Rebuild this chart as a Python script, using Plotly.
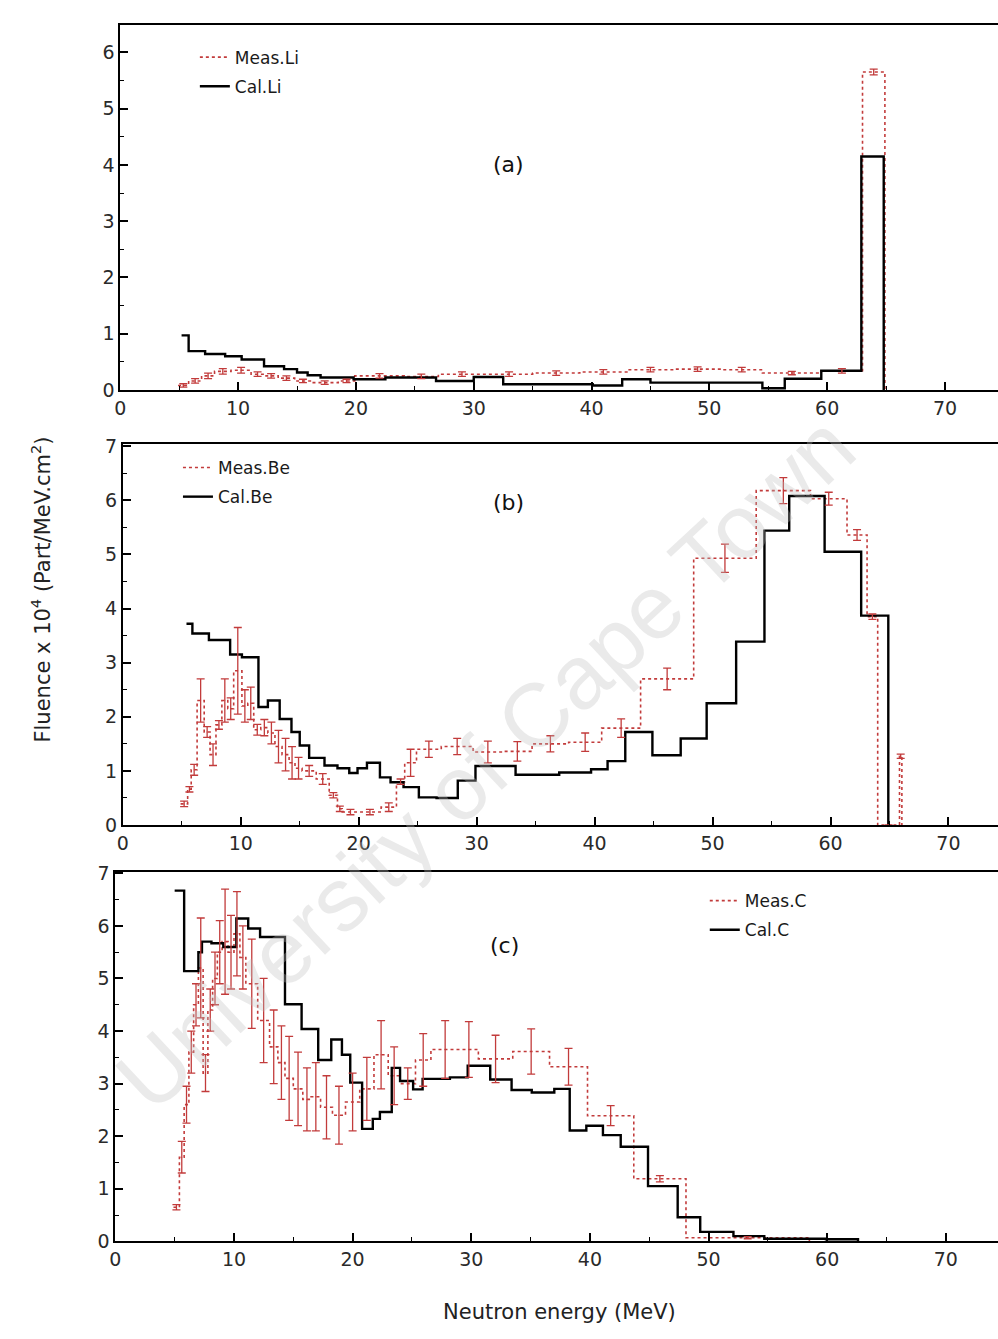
import plotly.graph_objects as go

W, H = 998, 1339

# ---------------- data ----------------
# Panel (a) Li
li_meas_edges = [4.9, 5.8, 6.9, 8.0, 9.4, 11.1, 12.2, 13.4, 14.8, 16.2, 18.5, 19.9, 24.1, 27.0,
                 31.0, 35.0, 39.0, 43.0, 47.0, 51.0, 54.5, 59.5, 63.0, 64.9]
li_meas_vals = [0.08, 0.16, 0.25, 0.33, 0.35, 0.28, 0.25, 0.21, 0.16, 0.13, 0.16, 0.25, 0.24,
                0.28, 0.28, 0.30, 0.32, 0.36, 0.37, 0.36, 0.30, 0.34, 5.65]
li_meas_err = [0.03, 0.04, 0.05, 0.05, 0.05, 0.04, 0.04, 0.04, 0.03, 0.03, 0.03, 0.04, 0.04,
               0.04, 0.04, 0.04, 0.04, 0.04, 0.04, 0.04, 0.03, 0.04, 0.05]
li_cal_edges = [5.2, 5.8, 7.2, 8.9, 10.3, 12.2, 13.9, 15.0, 15.9, 17.0, 19.8, 22.5, 26.8, 30.0,
                32.5, 35.2, 40.1, 42.6, 45.0, 54.5, 56.4, 59.5, 62.9, 64.8]
li_cal_vals = [0.97, 0.69, 0.64, 0.60, 0.54, 0.42, 0.37, 0.31, 0.26, 0.22, 0.19, 0.22, 0.16,
               0.23, 0.10, 0.10, 0.08, 0.19, 0.13, 0.03, 0.20, 0.34, 4.15]

# Panel (b) Be
be_meas_edges = [4.9, 5.5, 5.8, 6.3, 6.9, 7.4, 7.9, 8.4, 8.9, 9.4, 10.1, 10.6, 11.1, 11.7, 12.3,
                 12.9, 13.5, 14.1, 14.6, 15.2, 16.4, 17.5, 18.2, 18.6, 20.0, 21.9, 23.2, 23.9,
                 24.9, 27.0, 29.7, 32.2, 34.7, 37.8, 40.6, 43.9, 48.4, 53.7, 58.3, 61.4, 63.1,
                 64.0, 65.85, 66.05]
be_meas_vals = [0.39, 0.66, 1.02, 2.30, 1.72, 1.30, 1.85, 2.30, 2.15, 2.85, 2.20, 2.25, 1.76,
                1.80, 1.70, 1.45, 1.30, 1.15, 1.05, 1.00, 0.85, 0.55, 0.30, 0.24, 0.24, 0.33,
                0.80, 1.15, 1.40, 1.45, 1.35, 1.36, 1.50, 1.53, 1.79, 2.70, 4.93, 6.18, 6.03,
                5.36, 3.85, 0.0, 1.27]
be_meas_err = [0.05, 0.05, 0.10, 0.40, 0.10, 0.20, 0.08, 0.40, 0.20, 0.80, 0.30, 0.30, 0.10,
               0.15, 0.20, 0.30, 0.30, 0.30, 0.20, 0.10, 0.10, 0.05, 0.05, 0.05, 0.05, 0.08,
               0.05, 0.25, 0.15, 0.15, 0.20, 0.18, 0.15, 0.17, 0.17, 0.20, 0.26, 0.24, 0.12,
               0.10, 0.05, 0.0, 0.04]
be_cal_edges = [5.4, 5.9, 7.3, 9.1, 10.1, 11.5, 12.3, 13.3, 14.3, 15.0, 15.8, 17.1, 18.2, 19.2,
                19.9, 20.7, 21.8, 22.7, 23.8, 25.1, 26.6, 28.4, 29.9, 33.3, 37.0, 39.7, 41.1,
                42.6, 44.9, 47.3, 49.5, 52.0, 54.4, 56.5, 59.5, 62.6, 64.9]
be_cal_vals = [3.72, 3.54, 3.42, 3.15, 3.10, 2.18, 2.30, 1.96, 1.72, 1.47, 1.24, 1.10, 1.05,
               0.96, 1.05, 1.15, 0.88, 0.79, 0.70, 0.51, 0.50, 0.82, 1.09, 0.93, 0.97, 1.03,
               1.18, 1.72, 1.29, 1.60, 2.25, 3.39, 5.44, 6.08, 5.05, 3.87]

# Panel (c) C
c_meas_edges = [4.9, 5.4, 5.8, 6.2, 6.6, 7.0, 7.4, 7.8, 8.2, 8.6, 9.0, 9.5, 10.0, 10.5, 11.0,
                12.0, 13.0, 13.7, 14.3, 15.0, 15.8, 16.5, 17.3, 18.3, 19.4, 20.6, 21.8, 23.0,
                24.0, 25.3, 26.6, 29.0, 30.6, 33.5, 36.6, 39.8, 43.7, 48.1, 58.5]
c_meas_vals = [0.65, 1.6, 2.6, 3.6, 4.5, 5.2, 3.2, 4.4, 5.0, 5.5, 5.7, 5.5, 5.85, 5.4, 4.9,
               4.2, 3.7, 3.4, 3.1, 2.9, 2.7, 2.75, 2.55, 2.4, 2.65, 2.9, 3.55, 3.15, 3.0, 3.45,
               3.65, 3.65, 3.47, 3.61, 3.32, 2.39, 1.19, 0.07]
c_meas_err = [0.05, 0.3, 0.35, 0.4, 0.4, 0.95, 0.35, 0.4, 0.5, 0.6, 1.0, 0.7, 0.8, 0.6, 0.85,
              0.8, 0.7, 0.7, 0.8, 0.7, 0.6, 0.65, 0.6, 0.55, 0.55, 0.6, 0.65, 0.55, 0.3, 0.5,
              0.55, 0.53, 0.45, 0.43, 0.35, 0.19, 0.06, 0.02]
c_cal_edges = [5.0, 5.8, 7.0, 7.3, 8.1, 9.1, 10.2, 11.2, 12.2, 14.3, 15.7, 17.1, 18.2, 19.1,
               19.8, 20.8, 21.7, 22.3, 23.3, 24.0, 25.1, 25.9, 28.2, 29.7, 31.6, 33.4, 35.1,
               37.0, 38.3, 39.7, 41.1, 42.6, 44.9, 47.4, 49.3, 52.1, 54.7, 59.9, 62.6]
c_cal_vals = [6.67, 5.14, 5.5, 5.7, 5.67, 5.6, 6.14, 5.95, 5.79, 4.51, 4.04, 3.45, 3.84, 3.55,
              3.02, 2.14, 2.33, 2.46, 3.3, 3.05, 2.89, 3.09, 3.12, 3.34, 3.08, 2.88, 2.83, 2.9,
              2.11, 2.2, 2.02, 1.8, 1.05, 0.46, 0.18, 0.1, 0.05, 0.04]

panel_labels = ["(a)", "(b)", "(c)"]
meas_names = ["Meas.Li", "Meas.Be", "Meas.C"]
cal_names = ["Cal.Li", "Cal.Be", "Cal.C"]

RED = "#c23b3b"
FONT = "DejaVu Sans, Liberation Sans, sans-serif"
WM_FONT = "Liberation Sans, Arial, sans-serif"


def step_xy(edges, vals):
    xs = list(edges) + [edges[-1]]
    ys = list(vals) + [vals[-1], 0.0]
    return xs, ys


def centers(edges):
    return [(edges[i] + edges[i + 1]) / 2 for i in range(len(edges) - 1)]


fig = go.Figure()

panels = [
    (li_meas_edges, li_meas_vals, li_meas_err, li_cal_edges, li_cal_vals, "", "legend"),
    (be_meas_edges, be_meas_vals, be_meas_err, be_cal_edges, be_cal_vals, "2", "legend2"),
    (c_meas_edges, c_meas_vals, c_meas_err, c_cal_edges, c_cal_vals, "3", "legend3"),
]

for k, (me, mv, merr, ce, cv, sfx, lg) in enumerate(panels):
    xa, ya = "x" + sfx, "y" + sfx
    mx, my = step_xy(me, mv)
    fig.add_trace(go.Scatter(x=mx, y=my, mode="lines", line=dict(shape="hv", color=RED, width=1.6, dash="dot"),
                             name=meas_names[k], legend=lg, legendgroup="m%d" % k, xaxis=xa, yaxis=ya))
    cx, cy = step_xy(ce, cv)
    fig.add_trace(go.Scatter(x=cx, y=cy, mode="lines", line=dict(shape="hv", color="black", width=2.4),
                             name=cal_names[k], legend=lg, legendgroup="c%d" % k, xaxis=xa, yaxis=ya))
    fig.add_trace(go.Scatter(x=centers(me), y=mv, mode="markers", marker=dict(size=1, color=RED),
                             error_y=dict(type="data", array=merr, visible=True, color=RED, thickness=1.3, width=4),
                             showlegend=False, xaxis=xa, yaxis=ya, hoverinfo="skip"))

# ---------------- layout ----------------
def px_x(p):
    return p / W


def px_y(p):
    return 1 - p / H


axis_common = dict(showline=True, linecolor="black", linewidth=2, showgrid=False, zeroline=False,
                   ticks="inside", tickcolor="black", tickwidth=1.5, ticklen=8,
                   tickfont=dict(family=FONT, size=19, color="#2a2a2a"))

# (left px of x=0, x-range max, bottom px, top px, y max)
geo = [(115, 74.5, 386, 15, 6.49), (117.5, 74.2, 828, 441, 7.04), (110, 74.4, 1251, 876, 7.02)]
for k, (x0, xmax, yb, yt, ymax) in enumerate(geo):
    sfx = "" if k == 0 else str(k + 1)
    fig.layout["xaxis" + sfx] = dict(axis_common, domain=[px_x(x0), 1], range=[0, xmax], dtick=10, tick0=0,
                                     mirror=True, anchor="y" + sfx,
                                     minor=dict(ticks="inside", dtick=5, ticklen=4, tickcolor="black", tickwidth=1.2))
    fig.layout["yaxis" + sfx] = dict(axis_common, domain=[px_y(yb), px_y(yt)], range=[0, ymax], dtick=1, tick0=0,
                                     anchor="x" + sfx,
                                     minor=dict(ticks="inside", dtick=0.5, ticklen=4, tickcolor="black", tickwidth=1.2))

leg_common = dict(bgcolor="rgba(0,0,0,0)", font=dict(family=FONT, size=17, color="#1a1a1a"),
                  traceorder="grouped", tracegroupgap=4, xanchor="left", yanchor="top", itemwidth=30)
fig.update_layout(
    legend=dict(leg_common, x=px_x(190), y=px_y(30)),
    legend2=dict(leg_common, x=px_x(173), y=px_y(447)),
    legend3=dict(leg_common, x=px_x(703), y=px_y(887)),
)

annots = [
    dict(text=panel_labels[0], x=px_x(506), y=px_y(157)),
    dict(text=panel_labels[1], x=px_x(506), y=px_y(500)),
    dict(text=panel_labels[2], x=px_x(502), y=px_y(950)),
]
for a in annots:
    fig.add_annotation(xref="paper", yref="paper", showarrow=False, xanchor="center", yanchor="middle",
                       font=dict(family=FONT, size=22, color="#111"), **a)

fig.add_annotation(xref="paper", yref="paper", x=px_x(35), y=px_y(589), showarrow=False, textangle=-90,
                   xanchor="center", yanchor="middle",
                   text="Fluence x 10<sup>4</sup> (Part/MeV.cm<sup>2</sup>)",
                   font=dict(family=FONT, size=21, color="#222"))
fig.add_annotation(xref="paper", yref="paper", x=px_x(557), y=px_y(1323), showarrow=False,
                   xanchor="center", yanchor="middle",
                   text="Neutron energy (MeV)", font=dict(family=FONT, size=21, color="#222"))

# watermark
fig.add_annotation(xref="paper", yref="paper", x=px_x(482), y=px_y(765), showarrow=False, textangle=-43,
                   xanchor="center", yanchor="middle",
                   text="University of Cape Town", font=dict(family=WM_FONT, size=90, color="rgba(190,190,190,0.33)"))

fig.update_layout(width=W, height=H, margin=dict(l=0, r=0, t=0, b=0), plot_bgcolor="white",
                  paper_bgcolor="white", showlegend=True)

fig.write_html("out.html")
